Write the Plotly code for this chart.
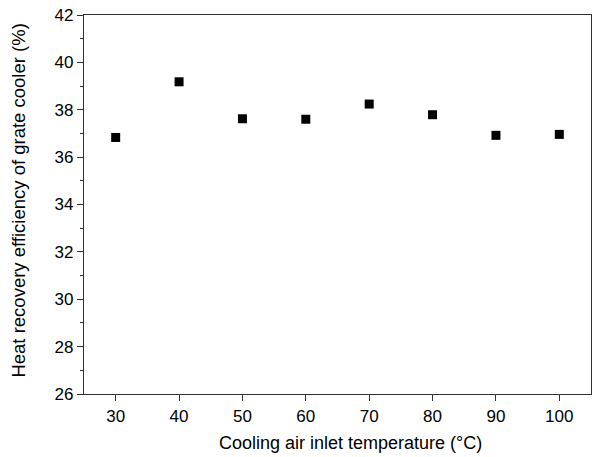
import plotly.graph_objects as go

temps = [30, 40, 50, 60, 70, 80, 90, 100]
efficiency = [36.83, 39.18, 37.62, 37.60, 38.24, 37.79, 36.92, 36.96]
x_title = "Cooling air inlet temperature (°C)"
y_title = "Heat recovery efficiency of grate cooler (%)"

fig = go.Figure()
fig.add_trace(go.Scatter(
    x=temps, y=efficiency, mode="markers",
    marker=dict(symbol="square", size=9, color="black"),
    showlegend=False,
))

font_family = "Liberation Sans, Arial, sans-serif"
axis_common = dict(
    showline=True, linecolor="#333", linewidth=1.2, mirror=True,
    ticks="outside", ticklen=6, tickwidth=1.2, tickcolor="#333",
    showgrid=False, zeroline=False,
    tickfont=dict(family=font_family, size=17, color="black"),
)

fig.update_xaxes(
    range=[25, 105], tickvals=[30, 40, 50, 60, 70, 80, 90, 100],
    **axis_common,
)
fig.update_yaxes(
    range=[26, 42], dtick=2, tick0=26,
    minor=dict(ticks="outside", ticklen=3, dtick=1, tickcolor="#333"),
    **axis_common,
)

fig.add_annotation(
    text=x_title, xref="paper", yref="paper", x=0.5266, y=-0.129,
    xanchor="center", yanchor="middle", showarrow=False,
    font=dict(family=font_family, size=18, color="black"),
)
fig.add_annotation(
    text=y_title, xref="paper", yref="paper", x=-0.130, y=0.5106,
    xanchor="center", yanchor="middle", showarrow=False, textangle=-90,
    font=dict(family=font_family, size=18.5, color="black"),
)

fig.update_layout(
    width=593, height=457,
    margin=dict(l=84, r=2, t=15, b=63, autoexpand=False),
    plot_bgcolor="white", paper_bgcolor="white",
)

fig.write_html(
    "out.html",
    config={"displayModeBar": False},
    post_script="document.body.style.margin='0';document.body.style.overflow='hidden';",
)
